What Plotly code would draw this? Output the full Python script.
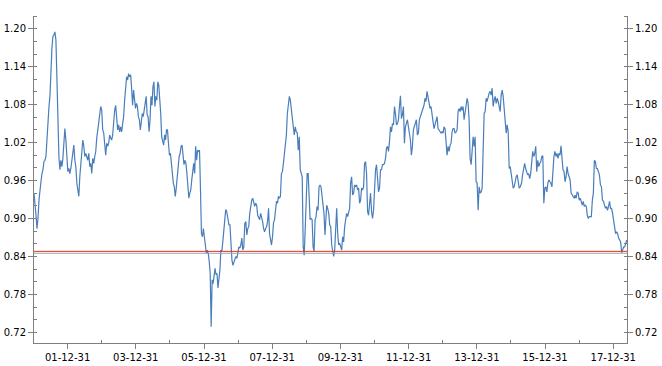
import pandas as pd
import plotly.graph_objects as go

# ---- data (segments: start date, end date, values) ----
seg1_start, seg1_end = "2001-01-05", "2003-10-26"
seg1 = [0.940,0.927,0.905,0.884,0.900,0.929,0.940,0.958,0.971,0.977,
        0.990,0.992,0.998,1.032,1.056,1.076,1.093,1.153,1.169,1.188,
        1.190,1.195,1.182,1.122,1.050,0.998,0.977,0.992,0.982,0.995,
        1.019,1.042,1.024,1.003,0.974,0.979,0.971,0.979,0.992,0.998,
        1.016,0.992,0.982,0.956,0.948,0.935,0.966,0.987,1.006,1.024,
        1.014,0.998,1.003,0.995,0.992,1.003,0.982,0.987,0.971,0.995,
        0.987,0.998,1.006,1.027,1.040,1.058,1.071,1.077,1.071,1.040,
        1.035,1.016,1.000,1.019,1.014,1.019,1.032,1.027,1.024,1.032,
        1.056,1.071,1.079,1.056,1.040,1.048,1.037,1.045,1.037,1.050,
        1.061,1.087,1.103,1.124,1.119,1.129,1.124]

seg2_start, seg2_end = "2003-11-06", "2006-09-10"
seg2 = [1.127,1.106,1.079,1.103,1.087,1.074,1.082,1.077,1.061,1.056,
        1.040,1.056,1.066,1.061,1.071,1.087,1.093,1.064,1.061,1.037,
        1.056,1.093,1.079,1.108,1.116,1.077,1.093,1.087,1.116,1.111,
        1.093,1.066,1.029,1.019,1.016,1.032,1.024,1.040,1.040,1.019,
        1.000,1.003,0.982,0.961,0.956,0.950,0.935,0.948,0.966,0.971,
        0.998,1.003,1.014,1.016,0.992,0.985,0.992,0.987,0.971,0.942,
        0.932,0.940,0.945,0.961,0.971,0.987,0.971,1.014,0.992,1.008,
        1.006,1.008,0.945,0.876,0.871,0.884,0.871,0.855,0.845,0.850,
        0.845,0.832,0.813,0.729,0.803,0.797,0.813,0.821,0.811,0.813,
        0.790,0.805,0.818,0.850,0.848,0.863,0.882,0.908,0.914,0.911,
        0.903]

seg3_start, seg3_end = "2006-09-24", "2009-07-29"
seg3 = [0.890,0.890,0.855,0.834,0.826,0.832,0.837,0.840,0.837,0.845,
        0.855,0.853,0.858,0.869,0.850,0.855,0.892,0.895,0.874,0.884,
        0.887,0.908,0.924,0.929,0.932,0.924,0.919,0.924,0.921,0.905,
        0.900,0.898,0.908,0.903,0.895,0.884,0.879,0.884,0.887,0.895,
        0.916,0.876,0.866,0.858,0.871,0.893,
        0.898,0.919,0.927,0.924,0.935,0.932,0.935,0.971,0.974,0.987,
        1.000,1.019,1.032,1.066,1.085,1.093,1.087,1.069,1.061,1.045,
        1.032,1.045,1.037,1.035,1.008,1.029,0.977,0.969,
        0.966,0.855,0.842,0.882,0.921,0.971,0.971,0.921,0.898,0.900,
        0.898,0.855,0.848,0.898,0.903,0.919,0.913,0.950,0.953,
        0.950,0.935,0.924,0.908,0.874,0.898]

seg4_start, seg4_end = "2009-08-06", "2012-06-06"
seg4 = [0.921,0.916,0.908,0.890,0.887,0.858,0.845,0.840,0.850,0.887,
        0.916,0.876,0.858,0.861,0.853,0.850,0.871,0.863,0.887,0.900,
        0.908,0.903,0.911,0.916,0.956,0.966,0.937,0.940,0.953,0.950,
        0.953,0.945,0.948,0.924,0.929,0.948,0.945,0.950,0.987,0.990,
        0.971,0.911,0.905,0.919,0.940,0.911,0.900,0.913,0.956,0.977,
        0.985,0.966,0.942,0.948,0.977,0.977,0.985,0.985,0.987,0.995,
        1.011,1.014,1.006,1.021,1.045,1.037,1.050,1.048,1.077,1.066,
        1.048,1.050,1.056,1.077,1.094,1.058,1.064,1.077,1.019,1.045,
        1.050,1.056,1.045,1.037,1.024,1.000,1.014,1.040,1.045,1.053,
        1.056,1.032,1.035,1.056,1.061,1.066,1.074,1.077]

seg5_start, seg5_end = "2012-06-13", "2015-04-20"
seg5 = [1.079,1.090,1.085,1.101,1.090,1.079,1.074,1.077,1.058,1.053,
        1.042,1.050,1.056,1.061,1.042,1.040,1.037,1.035,1.037,1.035,
        1.045,1.042,
        1.021,1.000,1.014,1.006,1.016,1.019,1.037,1.042,1.042,1.035,
        1.037,1.040,1.069,1.074,1.069,1.077,1.071,1.077,
        1.056,1.066,1.077,1.090,1.082,1.056,
        0.995,0.985,1.006,1.029,1.014,1.029,0.958,0.956,0.913,0.950,
        0.940,0.942,0.948,
        1.014,1.066,1.069,1.090,1.085,1.093,1.098,1.101,1.095,1.106,
        1.077,1.087,1.093,1.082,1.090,1.085,1.074,1.069,1.095,1.103,
        1.093,1.074,1.050,1.035,1.048,1.037,
        0.979,0.982,0.971,0.956,0.948,0.950,0.961,0.966,0.969,0.961,
        0.948,0.950,0.956]

seg6_start, seg6_end = "2015-04-24", "2018-05-24"
seg6 = [0.956,0.969,0.977,0.987,0.979,0.974,0.969,0.971,0.963,0.971,
        0.998,1.006,0.998,1.003,1.014,0.974,0.992,0.982,0.987,0.990,
        0.998,0.999,
        0.924,0.948,
        0.950,0.942,0.956,0.961,0.958,0.956,0.950,0.985,0.998,1.006,
        0.998,1.003,0.995,1.003,1.000,
        1.015,0.998,0.977,0.974,0.958,0.966,
        0.982,0.971,0.963,0.961,0.940,0.937,0.935,0.932,0.937,0.932,
        0.942,0.940,0.929,0.932,0.927,0.921,0.927,0.919,0.921,0.919,
        0.905,0.900,0.903,0.903,0.903,
        0.929,0.940,
        0.992,0.990,0.979,0.979,0.974,0.969,0.953,0.950,0.929,0.927,
        0.921,0.916,0.919,0.913,0.919,0.927,0.916,0.916,0.908,0.898,
        0.892,0.876,0.879,0.876,0.869,0.866,0.863,
        0.846,0.850,0.855,0.855,0.863,0.866]

red_level = 0.848
gray_level = 0.845

major_tick_dates = ["2001-12-31", "2003-12-31", "2005-12-31", "2007-12-31", "2009-12-31",
                    "2011-12-31", "2013-12-31", "2015-12-31", "2017-12-31"]
minor_tick_dates = ["2000-12-31", "2002-12-31", "2004-12-31", "2006-12-31", "2008-12-31",
                    "2010-12-31", "2012-12-31", "2014-12-31", "2016-12-31"]

x_range = ["2001-01-05", "2018-05-27"]
y_range = [0.7031, 1.2201]

# ---- build series ----
segments = [(seg1_start, seg1_end, seg1), (seg2_start, seg2_end, seg2),
            (seg3_start, seg3_end, seg3), (seg4_start, seg4_end, seg4),
            (seg5_start, seg5_end, seg5), (seg6_start, seg6_end, seg6)]
dates, values = [], []
for s, e, vals in segments:
    dates.extend(list(pd.date_range(s, e, periods=len(vals))))
    values.extend(vals)

fig = go.Figure()
fig.add_trace(go.Scatter(x=dates, y=values, mode="lines",
                         line=dict(color="#4a7ebb", width=1.2), showlegend=False))
fig.add_trace(go.Scatter(x=[x_range[0], x_range[1]], y=[gray_level, gray_level], mode="lines",
                         line=dict(color="#a0a0a0", width=1), yaxis="y2", showlegend=False))
fig.add_trace(go.Scatter(x=[x_range[0], x_range[1]], y=[red_level, red_level], mode="lines",
                         line=dict(color="#e2321c", width=1), yaxis="y2", showlegend=False))

axis_col = "#7f7f7f"
font = dict(family="DejaVu Sans, Verdana, sans-serif", size=10, color="#000000")

yaxis_common = dict(range=y_range, tick0=0.72, dtick=0.06, tickformat=".2f",
                    ticks="outside", ticklen=5, tickcolor=axis_col, tickwidth=1,
                    showline=True, linecolor=axis_col, linewidth=1,
                    showgrid=False, zeroline=False, tickfont=font, automargin=False,
                    minor=dict(dtick=0.02, tick0=0.72, ticks="inside", ticklen=3,
                               tickcolor=axis_col, showgrid=False))

fig.update_layout(
    width=662, height=366,
    margin=dict(l=34, r=35, t=16, b=23, autoexpand=False),
    paper_bgcolor="white", plot_bgcolor="white",
    font=font,
    xaxis=dict(type="date", range=x_range, tickmode="array", tickvals=major_tick_dates,
               tickformat="%y-%m-%d", ticks="outside", ticklen=5, tickcolor=axis_col,
               showline=True, linecolor=axis_col, linewidth=1, showgrid=False,
               zeroline=False, tickfont=font, automargin=False,
               minor=dict(tickmode="array", tickvals=minor_tick_dates, ticks="inside",
                          ticklen=3, tickcolor=axis_col, showgrid=False)),
    yaxis=dict(**yaxis_common, side="left"),
    yaxis2=dict(**yaxis_common, side="right", overlaying="y"),
)

fig.write_html("out.html")
